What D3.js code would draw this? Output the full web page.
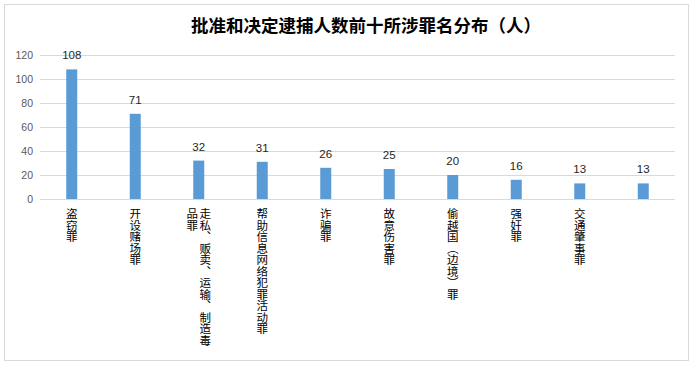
<!DOCTYPE html>
<html><head><meta charset="utf-8">
<script src="https://cdn.jsdelivr.net/npm/d3@7"></script>
<style>
html,body{margin:0;padding:0;background:#fff;}
svg{display:block;}
</style></head>
<body><svg id="c" width="694" height="365"></svg>
<script>
const title = "批准和决定逮捕人数前十所涉罪名分布（人）";
const categories = ["盗窃罪","开设赌场罪","走私、贩卖、运输、制造毒品罪","帮助信息网络犯罪活动罪","诈骗罪","故意伤害罪","偷越国（边境）罪","强奸罪","交通肇事罪",""];
const labelLines = [["盗窃罪"],["开设赌场罪"],["走私、贩卖、运输、制造毒","品罪"],["帮助信息网络犯罪活动罪"],["诈骗罪"],["故意伤害罪"],["偷越国（边境）罪"],["强奸罪"],["交通肇事罪"],[""]];
const values = [108,71,32,31,26,25,20,16,13,13];
const yTicks = [0,20,40,60,80,100,120];

const svg = d3.select("#c");
svg.append("rect").attr("x",4.5).attr("y",4.5).attr("width",684).attr("height",356)
  .attr("fill","#fff").attr("stroke","#d9d9d9").attr("stroke-width",1);

svg.append("text").attr("x",366).attr("y",32).attr("text-anchor","middle")
  .attr("font-family","'Noto Sans CJK SC'").attr("font-weight","bold").attr("font-size",17.5)
  .attr("fill","#000").text(title);

const x = d3.scaleBand().domain(d3.range(categories.length)).range([40,675]).paddingInner(0).paddingOuter(0);
const y = d3.scaleLinear().domain([0,120]).range([199,55]);

const yAxis = d3.axisLeft(y).tickValues(yTicks).tickSize(-(675-40)).tickPadding(7);
const gy = svg.append("g").attr("transform","translate(40,0)").call(yAxis);
gy.select(".domain").remove();
gy.selectAll(".tick line").attr("stroke","#d9d9d9").attr("shape-rendering","crispEdges");
gy.selectAll(".tick text").attr("font-family","'Liberation Sans',Arial").attr("font-size",10.5).attr("fill","#595959");

const bw = 11;
svg.append("g").selectAll("rect").data(values).join("rect")
  .attr("x",(d,i)=>x(i)+x.bandwidth()/2-bw/2).attr("width",bw)
  .attr("y",d=>y(d)).attr("height",d=>y(0)-y(d)).attr("fill","#5b9bd5");

svg.append("g").selectAll("text").data(values).join("text")
  .attr("x",(d,i)=>x(i)+x.bandwidth()/2).attr("y",d=>y(d)-10).attr("text-anchor","middle")
  .attr("font-family","'Liberation Sans',Arial").attr("font-size",11.5).attr("fill","#262626").text(d=>d);

// category labels (vertical)
const lg = svg.append("g");
labelLines.forEach((lines,i)=>{
  const cx = x(i)+x.bandwidth()/2;
  const n = lines.length;
  lines.forEach((ln,j)=>{
    const off = (n-1)/2*13 - j*13;
    lg.append("text").attr("x",cx+off).attr("y",208)
      .style("writing-mode","vertical-rl").style("text-orientation","upright")
      .attr("font-family","'Noto Sans CJK SC'").attr("font-size",11.5).attr("fill","#000")
      .text(ln);
  });
});
</script></body></html>
